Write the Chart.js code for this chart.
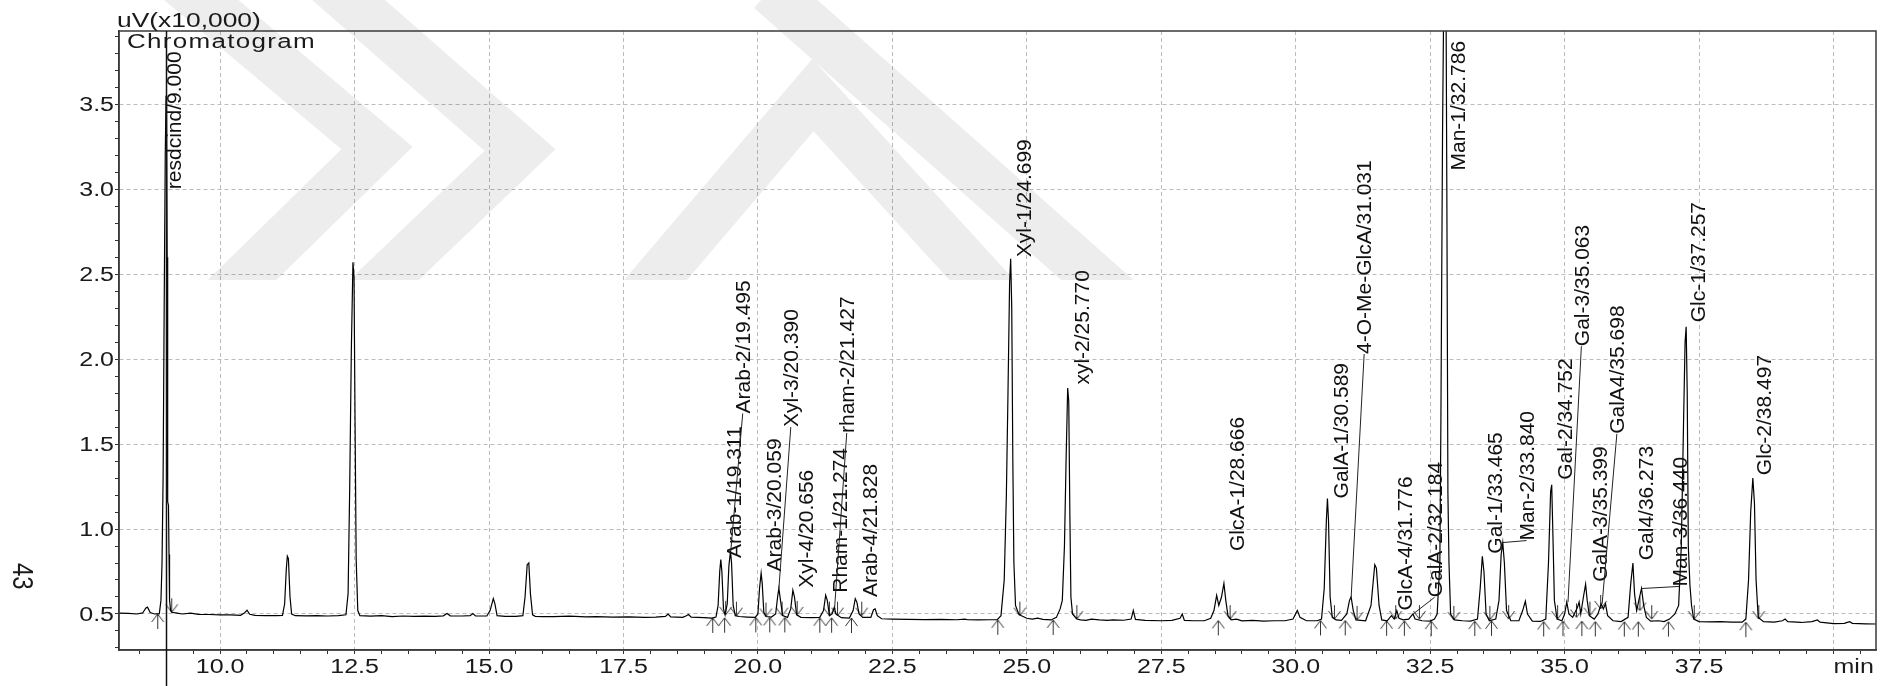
<!DOCTYPE html>
<html>
<head>
<meta charset="utf-8">
<script src="https://cdn.jsdelivr.net/npm/chart.js@4/dist/chart.umd.min.js"></script>
<style>
  html, body { margin: 0; padding: 0; background: #fff; }
  #wrap { width: 1890px; height: 686px; position: relative; }
</style>
</head>
<body>
<div id="wrap"><canvas id="chromChart"></canvas></div>
<script>
// detector trace (min, uV x10,000)
const retTimes = [8.12,8.30,8.45,8.56,8.62,8.65,8.70,8.78,8.87,8.90,8.92,8.94,8.96,8.98,8.995,9.005,9.015,9.025,9.04,9.05,9.06,9.08,9.10,9.20,9.30,9.45,9.60,9.80,10.00,10.20,10.38,10.45,10.50,10.55,10.65,10.85,11.05,11.16,11.20,11.23,11.25,11.27,11.30,11.33,11.40,11.60,11.80,12.00,12.20,12.34,12.38,12.41,12.44,12.47,12.49,12.51,12.53,12.56,12.60,12.80,13.00,13.20,13.40,13.60,13.80,14.00,14.15,14.22,14.28,14.50,14.65,14.70,14.75,14.96,15.02,15.08,15.11,15.15,15.30,15.50,15.63,15.67,15.71,15.74,15.77,15.81,15.86,16.00,16.20,16.50,16.80,17.00,17.30,17.60,17.90,18.10,18.28,18.33,18.38,18.60,18.66,18.71,18.76,19.00,19.14,19.22,19.26,19.29,19.31,19.33,19.36,19.39,19.43,19.46,19.49,19.51,19.54,19.58,19.65,19.80,19.95,20.00,20.03,20.06,20.08,20.11,20.15,20.25,20.33,20.37,20.39,20.42,20.46,20.55,20.61,20.65,20.68,20.72,20.80,21.00,21.15,21.22,21.26,21.29,21.33,21.38,21.42,21.45,21.55,21.70,21.77,21.81,21.84,21.88,21.95,22.10,22.15,22.18,22.22,22.30,22.50,22.80,23.10,23.40,23.70,23.85,23.90,24.10,24.30,24.45,24.52,24.58,24.62,24.65,24.68,24.70,24.72,24.74,24.76,24.79,24.85,24.90,25.00,25.10,25.20,25.30,25.45,25.55,25.62,25.66,25.70,25.73,25.76,25.78,25.80,25.82,25.85,25.93,26.00,26.10,26.20,26.35,26.50,26.60,26.80,26.94,26.98,27.02,27.20,27.50,27.70,27.85,27.89,27.93,28.10,28.30,28.42,28.48,28.53,28.57,28.62,28.665,28.70,28.74,28.80,28.90,29.00,29.20,29.40,29.60,29.80,29.95,30.03,30.08,30.20,30.40,30.48,30.53,30.57,30.59,30.61,30.64,30.68,30.75,30.85,30.95,31.00,31.03,31.07,31.12,31.30,31.40,31.47,31.50,31.55,31.60,31.70,31.78,31.83,31.88,31.92,32.00,32.10,32.18,32.22,32.35,32.50,32.58,32.63,32.68,32.70,32.73,32.76,32.79,32.81,32.83,32.85,32.88,32.95,33.10,33.25,33.38,33.43,33.47,33.50,33.54,33.60,33.72,33.78,33.82,33.85,33.88,33.92,34.00,34.15,34.22,34.27,34.31,34.40,34.55,34.65,34.70,34.74,34.76,34.78,34.81,34.86,34.95,35.00,35.04,35.08,35.15,35.24,35.27,35.30,35.35,35.39,35.42,35.46,35.55,35.62,35.68,35.72,35.76,35.80,35.90,36.05,36.18,36.23,36.27,36.30,36.34,36.38,36.43,36.47,36.52,36.60,36.75,36.85,36.95,37.05,37.12,37.17,37.21,37.24,37.26,37.28,37.30,37.33,37.36,37.40,37.50,37.70,37.90,38.10,38.30,38.37,38.42,38.46,38.50,38.53,38.56,38.60,38.70,38.90,39.05,39.10,39.15,39.40,39.60,39.70,39.75,40.00,40.20,40.30,40.35,40.60,40.79];
const signal = [0.505,0.503,0.500,0.506,0.535,0.540,0.508,0.500,0.502,0.580,0.800,1.300,2.300,3.200,3.550,3.450,2.600,1.160,1.140,0.850,0.580,0.520,0.510,0.505,0.500,0.505,0.498,0.497,0.495,0.495,0.492,0.505,0.522,0.498,0.492,0.490,0.490,0.492,0.560,0.760,0.840,0.825,0.600,0.500,0.490,0.489,0.490,0.488,0.490,0.495,0.620,1.250,2.050,2.570,2.480,1.600,0.820,0.520,0.490,0.487,0.490,0.485,0.488,0.486,0.487,0.486,0.489,0.503,0.489,0.488,0.490,0.502,0.489,0.488,0.520,0.590,0.560,0.490,0.486,0.486,0.490,0.600,0.790,0.800,0.620,0.495,0.486,0.485,0.484,0.487,0.483,0.485,0.482,0.483,0.480,0.482,0.486,0.500,0.483,0.480,0.488,0.497,0.481,0.478,0.476,0.482,0.550,0.750,0.820,0.750,0.530,0.495,0.560,0.780,0.870,0.800,0.550,0.490,0.485,0.482,0.480,0.500,0.650,0.740,0.680,0.510,0.485,0.482,0.500,0.610,0.650,0.580,0.490,0.480,0.530,0.640,0.600,0.495,0.480,0.478,0.480,0.520,0.610,0.580,0.490,0.500,0.540,0.500,0.478,0.476,0.520,0.590,0.570,0.500,0.480,0.480,0.525,0.530,0.490,0.472,0.470,0.468,0.467,0.468,0.466,0.470,0.466,0.465,0.466,0.466,0.490,0.700,1.200,1.800,2.450,2.590,2.300,1.400,0.800,0.550,0.500,0.490,0.475,0.470,0.475,0.468,0.465,0.480,0.530,0.580,0.900,1.400,1.830,1.750,1.100,0.600,0.500,0.470,0.465,0.462,0.470,0.465,0.462,0.465,0.463,0.470,0.520,0.468,0.462,0.460,0.462,0.475,0.500,0.462,0.460,0.460,0.475,0.520,0.610,0.550,0.600,0.680,0.580,0.490,0.465,0.470,0.460,0.462,0.458,0.460,0.460,0.470,0.520,0.480,0.460,0.460,0.470,0.650,1.050,1.180,1.050,0.600,0.480,0.465,0.462,0.500,0.580,0.600,0.520,0.465,0.460,0.550,0.790,0.770,0.550,0.465,0.460,0.490,0.470,0.520,0.475,0.465,0.470,0.500,0.470,0.460,0.458,0.470,0.500,0.800,1.650,3.320,4.400,4.500,3.000,1.210,0.800,0.500,0.465,0.460,0.458,0.470,0.650,0.840,0.750,0.500,0.460,0.470,0.580,0.850,0.920,0.800,0.520,0.460,0.460,0.520,0.575,0.500,0.458,0.456,0.470,0.800,1.220,1.260,1.000,0.580,0.470,0.460,0.500,0.570,0.500,0.480,0.540,0.570,0.500,0.600,0.675,0.580,0.490,0.470,0.500,0.560,0.530,0.560,0.490,0.460,0.455,0.480,0.680,0.800,0.620,0.520,0.580,0.650,0.550,0.480,0.458,0.460,0.455,0.470,0.500,0.550,0.900,1.600,2.100,2.190,1.800,0.900,0.670,0.550,0.470,0.455,0.453,0.455,0.452,0.452,0.470,0.700,1.100,1.300,1.150,0.700,0.480,0.455,0.452,0.460,0.470,0.455,0.450,0.455,0.465,0.452,0.443,0.445,0.455,0.445,0.442,0.441];

// identified peaks and where their names sit
const peakNames = ['resdcind/9.000','Arab-1/19.311','Arab-2/19.495','Arab-3/20.059','Xyl-3/20.390','Xyl-4/20.656','Rham-1/21.274','rham-2/21.427','Arab-4/21.828','Xyl-1/24.699','xyl-2/25.770','GlcA-1/28.666','GalA-1/30.589','4-O-Me-GlcA/31.031','GlcA-4/31.776','GalA-2/32.184','Man-1/32.786','Gal-1/33.465','Man-2/33.840','Gal-2/34.752','Gal-3/35.063','GalA-3/35.399','GalA4/35.698','Gal4/36.273','Man-3/36.440','Glc-1/37.257','Glc-2/38.497'];
const peakTimes = [9.0,19.311,19.495,20.059,20.39,20.656,21.274,21.427,21.828,24.699,25.77,28.666,30.589,31.031,31.776,32.184,32.786,33.465,33.84,34.752,35.063,35.399,35.698,36.273,36.44,37.257,38.497];
const peakApex = [3.55,0.82,0.87,0.74,0.65,0.64,0.61,0.54,0.59,2.59,1.83,0.68,1.18,0.60,0.52,0.50,4.50,0.84,0.92,1.26,0.57,0.675,0.56,0.80,0.65,2.19,1.30];
const labelTimes = [8.89,19.311,19.476,20.059,20.37,20.656,21.274,21.41,21.828,24.699,25.77,28.666,30.589,31.031,31.776,32.34,32.775,33.465,34.05,34.752,35.07,35.42,35.73,36.26,36.89,37.24,38.46];
const labelLevels = [3.0,0.83,1.68,0.75,1.60,0.655,0.625,1.565,0.60,2.60,1.85,0.87,1.18,2.03,0.52,0.598,3.11,0.855,0.932,1.29,2.076,0.69,1.56,0.816,0.662,2.217,1.317];
const labelLeader = [0,0,1,0,1,0,0,1,0,0,0,0,0,1,0,1,0,0,1,0,1,0,1,0,1,0,0];

// integration start / end marks
const startTimes = [8.84,19.16,19.38,19.96,20.22,20.50,21.15,21.37,21.74,24.46,25.49,28.56,30.46,30.92,31.69,32.02,32.52,33.33,33.64,34.61,34.97,35.32,35.57,36.11,36.37,36.93,38.37];
const startLevels = [0.50,0.477,0.478,0.48,0.48,0.48,0.478,0.478,0.476,0.466,0.465,0.462,0.462,0.462,0.46,0.46,0.458,0.458,0.46,0.456,0.458,0.458,0.456,0.455,0.455,0.455,0.452];
const endTimes = [9.10,19.40,19.60,20.15,20.45,20.73,21.33,21.48,21.93,24.87,25.93,28.78,30.72,31.14,31.86,32.30,32.94,33.61,33.96,34.87,35.22,35.47,35.67,36.40,36.62,37.41,38.61];
const endLevels = [0.51,0.495,0.49,0.485,0.49,0.495,0.49,0.49,0.49,0.49,0.47,0.47,0.47,0.465,0.47,0.47,0.465,0.465,0.47,0.47,0.48,0.49,0.53,0.52,0.47,0.47,0.47];

// axes
const xMajorTicks = [10, 12.5, 15, 17.5, 20, 22.5, 25, 27.5, 30, 32.5, 35, 37.5, 40];
const xTickLabels = ['10.0','12.5','15.0','17.5','20.0','22.5','25.0','27.5','30.0','32.5','35.0','37.5','min'];
const yMajorTicks = [0.5, 1.0, 1.5, 2.0, 2.5, 3.0, 3.5];
const yTickLabels = ['0.5','1.0','1.5','2.0','2.5','3.0','3.5'];

const xMinor = [];
for (let i = 17; i <= 81; i++) xMinor.push(i / 2);
const yMinor = [];
for (let i = 3; i <= 39; i++) yMinor.push(i / 10);
const isMajor = (list, v) => list.some(m => Math.abs(m - v) < 1e-6);

const FONT = '"Liberation Sans", Arial, sans-serif';

function arrowMark(up) {
  const c = document.createElement('canvas');
  c.width = 15; c.height = 36;
  const g = c.getContext('2d');
  g.strokeStyle = '#333';
  g.lineWidth = 1;
  const cx = 7.5, cy = 18;
  g.beginPath();
  if (up) {
    g.moveTo(cx, cy); g.lineTo(cx, cy + 15);
    g.moveTo(cx - 6, cy + 8); g.lineTo(cx, cy); g.lineTo(cx + 6, cy + 8);
  } else {
    g.moveTo(cx, cy); g.lineTo(cx, cy - 14);
    g.moveTo(cx - 6, cy - 8); g.lineTo(cx, cy); g.lineTo(cx + 6, cy - 8);
  }
  g.stroke();
  return c;
}

function wideText(ctx, text, x, y, align, sx) {
  ctx.save();
  ctx.translate(x, y);
  ctx.scale(sx, 1);
  ctx.textAlign = align;
  ctx.fillText(text, 0, 0);
  ctx.restore();
}

// faint logo behind the trace
const watermark = {
  id: 'watermark',
  beforeDatasetsDraw(chart) {
    const ctx = chart.ctx;
    ctx.save();
    ctx.beginPath();
    ctx.rect(0, 0, chart.width, 280);
    ctx.clip();
    ctx.strokeStyle = 'rgba(0,0,0,0.07)';
    ctx.lineWidth = 48;
    ctx.lineJoin = 'miter';
    ctx.beginPath();
    ctx.moveTo(130, -60); ctx.lineTo(377, 148); ctx.lineTo(150, 370);
    ctx.moveTo(280, -60); ctx.lineTo(520, 150); ctx.lineTo(290, 370);
    ctx.moveTo(630, 310); ctx.lineTo(813, 95); ctx.lineTo(1000, 300);
    ctx.moveTo(770, -10); ctx.lineTo(1120, 300);
    ctx.stroke();
    ctx.restore();
  }
};

const decorations = {
  id: 'decorations',
  afterDraw(chart) {
    const ctx = chart.ctx;
    const a = chart.chartArea;
    const xs = chart.scales.x, ys = chart.scales.y;
    ctx.save();

    // frame
    ctx.strokeStyle = '#3a3a3a';
    ctx.lineWidth = 1.5;
    ctx.strokeRect(a.left, a.top, a.right - a.left, a.bottom - a.top);

    // reference line at first peak
    const rx = Math.round(xs.getPixelForValue(peakTimes[0])) + 0.5;
    ctx.strokeStyle = '#111';
    ctx.lineWidth = 1.5;
    ctx.beginPath();
    ctx.moveTo(rx, a.top);
    ctx.lineTo(rx, chart.height);
    ctx.stroke();

    // peak names
    ctx.fillStyle = '#111';
    ctx.strokeStyle = '#222';
    ctx.lineWidth = 1;
    ctx.font = '21px ' + FONT;
    peakNames.forEach((name, i) => {
      const lx = xs.getPixelForValue(labelTimes[i]) + 4;
      const ly = ys.getPixelForValue(labelLevels[i]);
      if (labelLeader[i]) {
        const px = xs.getPixelForValue(peakTimes[i]);
        const py = ys.getPixelForValue(Math.min(peakApex[i], ys.max));
        ctx.beginPath();
        ctx.moveTo(px, py);
        ctx.lineTo(lx + 9, ly);
        ctx.stroke();
      }
      ctx.save();
      ctx.translate(lx, ly);
      ctx.rotate(-Math.PI / 2);
      ctx.textAlign = 'left';
      ctx.textBaseline = 'top';
      ctx.fillText(name, 0, 0);
      ctx.restore();
    });

    // tick labels
    ctx.font = '20px ' + FONT;
    ctx.fillStyle = '#1a1a1a';
    ctx.textBaseline = 'alphabetic';
    xMajorTicks.forEach((v, i) => {
      const px = xs.getPixelForValue(v);
      if (xTickLabels[i] === 'min') wideText(ctx, xTickLabels[i], px, 673, 'left', 1.25);
      else wideText(ctx, xTickLabels[i], px, 673, 'center', 1.25);
    });
    yMajorTicks.forEach((v, i) => {
      wideText(ctx, yTickLabels[i], 114, ys.getPixelForValue(v) + 7, 'right', 1.25);
    });

    // unit and title
    wideText(ctx, 'uV(x10,000)', 117, 27, 'left', 1.32);
    ctx.letterSpacing = '1px';
    wideText(ctx, 'Chromatogram', 127, 48, 'left', 1.3);
    ctx.letterSpacing = '0px';

    // page number
    ctx.font = '24px ' + FONT;
    ctx.save();
    ctx.translate(13, 563);
    ctx.rotate(Math.PI / 2);
    ctx.scale(1, 1.2);
    ctx.textAlign = 'left';
    ctx.fillText('43', 0, 0);
    ctx.restore();

    ctx.restore();
  }
};

const axisGrid = (majors) => ({
  color: c => (c.tick && isMajor(majors, c.tick.value)) ? '#bcbcbc' : 'rgba(0,0,0,0)',
  lineWidth: 1,
  drawTicks: true,
  tickLength: 4,
  tickColor: '#333',
  tickWidth: 1
});

new Chart(document.getElementById('chromChart'), {
  type: 'scatter',
  data: {
    datasets: [
      {
        label: 'trace',
        data: retTimes.map((t, i) => ({ x: t, y: signal[i] })),
        showLine: true,
        borderColor: '#000',
        borderWidth: 1.2,
        pointRadius: 0,
        tension: 0,
        clip: 0
      },
      {
        label: 'start',
        data: startTimes.map((t, i) => ({ x: t, y: startLevels[i] })),
        pointStyle: arrowMark(true),
        pointRadius: 4,
        clip: false
      },
      {
        label: 'end',
        data: endTimes.map((t, i) => ({ x: t, y: endLevels[i] })),
        pointStyle: arrowMark(false),
        pointRadius: 4,
        clip: false
      }
    ]
  },
  options: {
    responsive: true,
    maintainAspectRatio: false,
    animation: false,
    events: [],
    layout: { padding: { top: 31, right: 14, left: 0, bottom: 0 } },
    plugins: {
      legend: { display: false },
      tooltip: { enabled: false },
      title: { display: false }
    },
    scales: {
      x: {
        type: 'linear',
        min: 8.12,
        max: 40.79,
        afterBuildTicks: s => { s.ticks = xMinor.map(v => ({ value: v })); },
        afterFit: s => { s.height = 36; },
        ticks: { display: false },
        grid: axisGrid(xMajorTicks),
        border: { display: true, color: '#3a3a3a', width: 1.5, dash: [4, 3] }
      },
      y: {
        type: 'linear',
        min: 0.288,
        max: 3.931,
        afterBuildTicks: s => { s.ticks = yMinor.map(v => ({ value: v })); },
        afterFit: s => { s.width = 119; },
        ticks: { display: false },
        grid: axisGrid(yMajorTicks),
        border: { display: true, color: '#3a3a3a', width: 1.5, dash: [4, 3] }
      }
    }
  },
  plugins: [watermark, decorations]
});
</script>
</body>
</html>
